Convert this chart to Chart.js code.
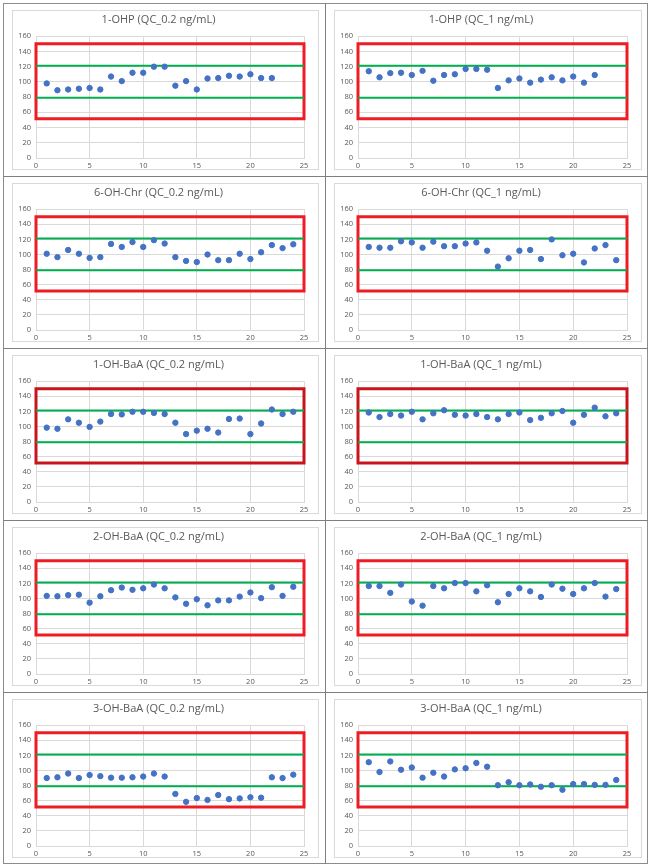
<!DOCTYPE html>
<html>
<head>
<meta charset="utf-8">
<title>QC charts</title>
<script src="https://cdn.jsdelivr.net/npm/chart.js@4.4.1/dist/chart.umd.min.js"></script>
<style>
  body { margin: 0; background: #fff; }
  #sheet { position: relative; width: 652px; height: 868px; }
  .frame { position: absolute; left: 3px; top: 3px; width: 645px; height: 861px; border: 1px solid #8c8c8c; box-sizing: border-box; }
  .vline { position: absolute; width: 1px; background: #7f7f7f; }
  .hline { position: absolute; height: 1px; background: #7f7f7f; }
  .box { position: absolute; border: 1px solid #d9d9d9; box-sizing: border-box; }
  canvas { position: absolute; }
</style>
</head>
<body>
<div id="sheet"><div class="frame"></div></div>
<script>
// run numbers (x axis)
var runs = [1, 2, 3, 4, 5, 6, 7, 8, 9, 10, 11, 12, 13, 14, 15, 16, 17, 18, 19, 20, 21, 22, 23, 24];

// panel titles
var titles = [
    '1-OHP (QC_0.2 ng/mL)', '1-OHP (QC_1 ng/mL)',
    '6-OH-Chr (QC_0.2 ng/mL)', '6-OH-Chr (QC_1 ng/mL)',
    '1-OH-BaA (QC_0.2 ng/mL)', '1-OH-BaA (QC_1 ng/mL)',
    '2-OH-BaA (QC_0.2 ng/mL)', '2-OH-BaA (QC_1 ng/mL)',
    '3-OH-BaA (QC_0.2 ng/mL)', '3-OH-BaA (QC_1 ng/mL)'
];

// recovery values (%) per QC run
var ohp02 = [98, 89, 90, 91, 92, 90, 107, 101, 112, 112, 120, 120, 95, 101, 90, 104.5, 105, 108, 107, 110, 105, 105];
var ohp1 = [114, 106, 111.5, 112, 109, 114.5, 101.5, 109, 110, 117, 117, 116, 92, 102, 104.5, 99, 103, 106, 102, 107, 99, 109];
var chr02 = [101, 96.5, 106, 101, 95.5, 96.5, 114, 110, 116.5, 110, 119, 114.5, 96.5, 91.5, 90, 100, 92.5, 92.5, 101, 94, 103, 112.5, 108.5, 113.5];
var chr1 = [110, 109, 109, 117.5, 116, 109, 117, 111, 111, 114.5, 116, 105, 84, 95, 105, 106, 94, 120, 99, 101, 89.5, 108, 112.5, 92.5];
var baa1_02 = [98.5, 97, 109.5, 105, 99.5, 106.5, 116.5, 116, 119.5, 119.5, 118, 116.5, 105, 90, 94.5, 97, 92, 110, 110.5, 90, 104, 122.5, 116.5, 119.5];
var baa1_1 = [118.5, 112.5, 116.5, 114.5, 119.5, 109.5, 117.5, 121.5, 115.5, 114.5, 116.5, 112.5, 109.5, 116.5, 118.5, 108.5, 111.5, 117.5, 120.5, 105, 115.5, 125, 113.5, 117.5];
var baa2_02 = [103.5, 103, 104.5, 105, 94.5, 103, 111, 114.5, 111.5, 113.5, 118.5, 113.5, 101.5, 93, 99, 91, 97.5, 97.5, 102.5, 108, 100.5, 115, 103.5, 115.5];
var baa2_1 = [116.5, 116.5, 107.5, 118.5, 96, 90.5, 116.5, 113.5, 120.5, 120.5, 109.5, 117.5, 95, 106, 113.5, 109.5, 102, 118.5, 113, 106, 113.5, 120.5, 102.5, 112.5];
var baa3_02 = [90, 91, 96, 90, 94, 92.5, 90.5, 90.5, 91, 92, 96, 92, 69, 58.5, 63.5, 61, 67.5, 62, 63, 64.5, 64, 91, 90, 94.5];
var baa3_1 = [111, 98, 112, 101, 104, 90.5, 97, 92, 101.5, 103, 110, 105, 80.5, 84.5, 80.5, 81.5, 78.5, 80.5, 74.5, 82, 82, 81, 81, 87.5];

var panelValues = [ohp02, ohp1, chr02, chr1, baa1_02, baa1_1, baa2_02, baa2_1, baa3_02, baa3_1];

// acceptance limits
var boxTop = 150, boxBottom = 51.5;
var upperLimit = 121.3, lowerLimit = 79;

Chart.defaults.font.family = "'Open Sans', 'Liberation Sans', sans-serif";

var sheet = document.getElementById('sheet');
var rowTops = [3, 176, 348, 520, 692, 864];
var colLefts = [3, 325, 648];

function addDiv(cls, x, y, w, h) {
    var d = document.createElement('div');
    d.className = cls;
    d.style.left = x + 'px';
    d.style.top = y + 'px';
    if (w != null) d.style.width = w + 'px';
    if (h != null) d.style.height = h + 'px';
    sheet.appendChild(d);
    return d;
}

// cell dividers
addDiv('vline', 325, 3, null, 861);
for (var r = 1; r < 5; r++) addDiv('hline', 3, rowTops[r], 645, null);

function makeChart(canvas, title, values, boxColor) {
    var pts = values.map(function (v, i) { return { x: runs[i], y: v }; });
    var mid = 12.5;
    new Chart(canvas, {
        type: 'scatter',
        data: {
            datasets: [{
                data: pts,
                backgroundColor: '#4472c4',
                borderColor: '#4472c4',
                pointRadius: 2.7,
                order: 0
            }, {
                data: [{ x: 0, y: upperLimit }, { x: 25, y: upperLimit }],
                showLine: true,
                borderColor: '#00b050',
                borderWidth: 2,
                pointRadius: 0,
                order: 1
            }, {
                data: [{ x: 0, y: lowerLimit }, { x: 25, y: lowerLimit }],
                showLine: true,
                borderColor: '#00b050',
                borderWidth: 2,
                pointRadius: 0,
                order: 1
            }, {
                data: [{ x: mid, y: boxTop }, { x: 25, y: boxTop }, { x: 25, y: boxBottom },
                       { x: 0, y: boxBottom }, { x: 0, y: boxTop }, { x: mid, y: boxTop }],
                showLine: true,
                borderColor: boxColor,
                borderWidth: 3,
                borderJoinStyle: 'miter',
                pointRadius: 0,
                clip: false,
                order: 2
            }]
        },
        options: {
            responsive: false,
            animation: false,
            events: [],
            layout: { padding: { left: 0, right: 14, top: 0, bottom: 0 } },
            plugins: {
                legend: { display: false },
                tooltip: { enabled: false },
                title: {
                    display: true,
                    text: title,
                    color: '#595959',
                    font: { size: 11, weight: 'normal' },
                    padding: { top: 2, bottom: 10 }
                }
            },
            scales: {
                x: {
                    type: 'linear',
                    min: 0,
                    max: 25,
                    ticks: { stepSize: 5, color: '#595959', font: { size: 7.5 }, padding: 3, maxRotation: 0 },
                    grid: { color: '#d9d9d9', drawTicks: false },
                    border: { color: '#d9d9d9' },
                    afterFit: function (s) { s.height = 11; }
                },
                y: {
                    min: 0,
                    max: 160,
                    ticks: { stepSize: 20, color: '#595959', font: { size: 7.5 }, padding: 5 },
                    grid: { color: '#d9d9d9', drawTicks: false },
                    border: { display: false },
                    afterFit: function (s) { s.width = 23; }
                }
            }
        }
    });
}

for (var i = 0; i < 10; i++) {
    var row = Math.floor(i / 2), col = i % 2;
    var cx = colLefts[col], cy = rowTops[row];
    var cw = colLefts[col + 1] - cx, ch = rowTops[row + 1] - cy;
    var bx = cx + 9, by = cy + 7, bw = cw - 15, bh = ch - 13;
    addDiv('box', bx, by, bw, bh);
    var c = document.createElement('canvas');
    c.width = bw - 2;
    c.height = bh - 2;
    c.style.left = (bx + 1) + 'px';
    c.style.top = (by + 1) + 'px';
    sheet.appendChild(c);
    makeChart(c, titles[i], panelValues[i], row === 2 ? '#c8151b' : '#ee1c24');
}
</script>
</body>
</html>
